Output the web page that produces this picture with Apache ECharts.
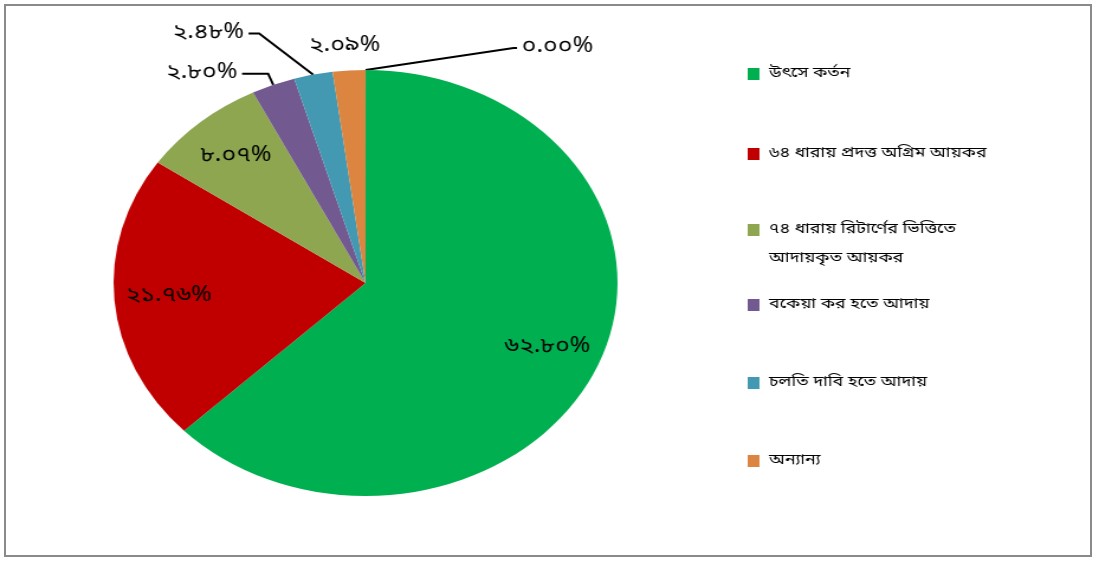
<!DOCTYPE html>
<html>
    <head>
        <meta charset="utf-8">
        <script src="https://cdn.jsdelivr.net/npm/echarts@6/dist/echarts.min.js"></script>
        <style>
            html, body { margin: 0; padding: 0; background: #fff; }
            #frame {
                position: absolute; left: 4px; top: 4px;
                width: 1084px; height: 549px;
                border: 2px solid #8a8a8a;
            }
            /* the original picture is stretched sideways, so the whole chart is too */
            #main {
                position: absolute; left: 0; top: 0;
                width: 925px; height: 561px;
                transform: scaleX(1.183);
                transform-origin: 0 0;
            }
        </style>
    </head>
    <body>
        <div id="frame"></div>
        <div id="main"></div>
        <script>
            var names = [
                'উৎসে কর্তন',
                '৬৪ ধারায় প্রদত্ত অগ্রিম আয়কর',
                '৭৪ ধারায় রিটার্ণের ভিত্তিতে আদায়কৃত আয়কর',
                'বকেয়া কর হতে আদায়',
                'চলতি দাবি হতে আদায়',
                'অন্যান্য',
                ''
            ];
            var values = [62.80, 21.76, 8.07, 2.80, 2.48, 2.09, 0.00];
            var colors = ['#00b050', '#c00000', '#8da64f', '#725a91', '#4399b1', '#db8540', '#db8540'];

            var font = '"Noto Sans Bengali", "Noto Sans", sans-serif';
            var bnDigits = '০১২৩৪৫৬৭৮৯';
            function bn(v) {
                return v.toFixed(2).replace(/\d/g, function (d) { return bnDigits[d]; }) + '%';
            }

            var chart = echarts.init(document.getElementById('main'));

            // outside labels for the thin slices
            var outer = [
                null, null, null,
                { length: 12, length2: 22, show: true },
                { length: 42, length2: 46, show: true },
                { length: 24, length2: 0, show: false },
                { length: 22, length2: 128, show: true }
            ];

            var mainData = names.map(function (n, i) {
                var d = { name: n, value: values[i], itemStyle: { color: colors[i] } };
                if (outer[i]) {
                    d.label = { show: true };
                    d.labelLine = outer[i];
                } else {
                    d.label = { show: false };
                }
                return d;
            });

            // transparent copy that carries the inside labels further out
            var innerData = names.map(function (n, i) {
                return {
                    name: n, value: values[i],
                    label: { show: !outer[i] }
                };
            });

            var legends = [72, 152, 228, 303, 381, 459].map(function (y, i) {
                var twoLine = i === 2;
                return {
                    orient: 'vertical',
                    left: 632,
                    top: twoLine ? y - 41.5 : y - 8,
                    padding: 0,
                    itemWidth: 10,
                    itemHeight: 12,
                    icon: 'rect',
                    selectedMode: false,
                    data: [names[i]],
                    formatter: function (n) {
                        if (twoLine) return '\n৭৪ ধারায় রিটার্ণের ভিত্তিতে\nআদায়কৃত আয়কর';
                        return n;
                    },
                    textStyle: {
                        fontFamily: font,
                        fontSize: 15,
                        color: '#000',
                        lineHeight: twoLine ? 29 : 20,
                        padding: [0, 0, 0, 3]
                    }
                };
            });

            var labelText = {
                formatter: function (p) { return bn(p.value); },
                fontFamily: font,
                fontSize: 21,
                color: '#000'
            };

            // Excel style leader: straight from the slice edge to a short tail by the label
            function slant(pts, tail) {
                if (!pts || pts.length < 3) return undefined;
                var end = pts[2];
                return [pts[0], [end[0] + tail, end[1]], end];
            }

            chart.setOption({
                animation: false,
                legend: legends,
                series: [{
                    type: 'pie',
                    center: [309, 283],
                    radius: [0, 213],
                    startAngle: 89.99,
                    clockwise: true,
                    silent: true,
                    avoidLabelOverlap: false,
                    label: Object.assign({ position: 'outside', distanceToLabelLine: 4 }, labelText),
                    labelLine: {
                        lineStyle: { color: '#000', width: 2 }
                    },
                    labelLayout: function (p) {
                        if (p.dataIndex === 4) return { labelLinePoints: slant(p.labelLinePoints, 9) };
                        if (p.dataIndex === 5) return { dx: 32 };
                        if (p.dataIndex === 6) return { labelLinePoints: slant(p.labelLinePoints, -3) };
                    },
                    data: mainData
                }, {
                    type: 'pie',
                    center: [309, 283],
                    radius: [115, 213],
                    startAngle: 89.99,
                    clockwise: true,
                    silent: true,
                    itemStyle: { color: 'rgba(0,0,0,0)' },
                    label: Object.assign({ position: 'inside' }, labelText),
                    labelLine: { show: false },
                    data: innerData
                }]
            });

            window.onresize = chart.resize;
        </script>
    </body>
</html>
